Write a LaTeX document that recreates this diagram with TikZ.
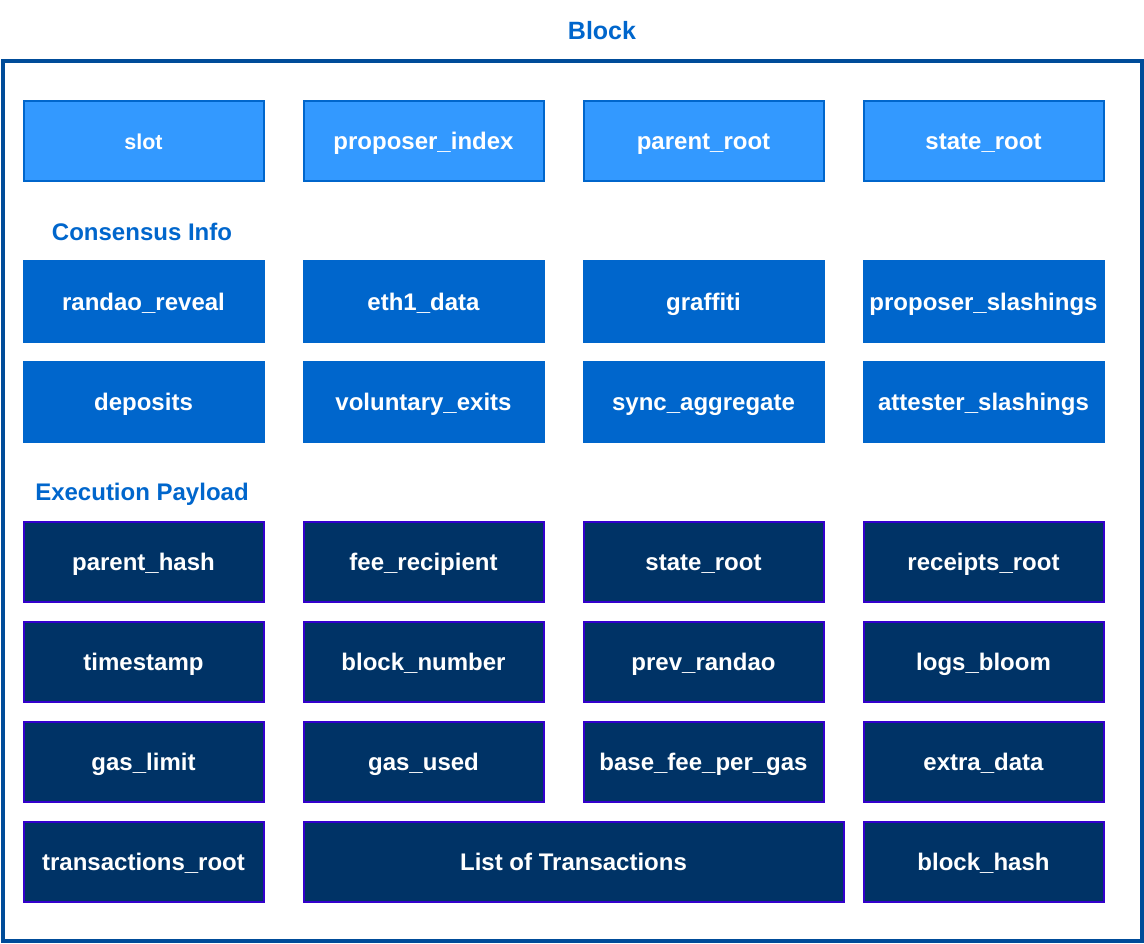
\documentclass[tikz,border=0pt]{standalone}
\usepackage{fontspec}
\setmainfont{Liberation Sans}
\definecolor{hdrfill}{HTML}{3399FF}
\definecolor{midblue}{HTML}{0066CC}
\definecolor{navy}{HTML}{003366}
\definecolor{violet}{HTML}{3300CC}
\definecolor{frame}{HTML}{004C99}
\tikzset{
  field/.style={anchor=north west, minimum width=240pt, minimum height=80pt,
    inner sep=0pt, line width=2pt, text=white, text height=17pt, text depth=0pt,
    font=\fontsize{24}{28}\selectfont\bfseries},
  headerfield/.style={field, fill=hdrfill, draw=midblue},
  consfield/.style={field, fill=midblue, draw=midblue},
  execfield/.style={field, fill=navy, draw=violet},
  caption/.style={text=midblue, font=\fontsize{24}{28}\selectfont\bfseries, inner sep=0pt,
    text height=17pt, text depth=0pt},
}
\begin{document}
\begin{tikzpicture}[x=1pt, y=-1pt]
\useasboundingbox (0,0) rectangle (1144,944);
% outer block frame
\draw[frame, line width=3.5pt] (3,61) rectangle (1142,941);
\node[caption, font=\fontsize{25}{29}\selectfont\bfseries] (title) at (602,31) {Block};
\node[caption] (cinfo) at (142,232) {Consensus Info};
\node[caption] (epay) at (142,492) {Execution Payload};

% header fields
\node[headerfield, font=\fontsize{21.5}{26}\selectfont\bfseries, text height=15.5pt] (slot) at (22.5,100.5) {slot};
\node[headerfield] (pidx) at (302.5,100.5) {proposer\_index};
\node[headerfield] (proot) at (582.5,100.5) {parent\_root};
\node[headerfield] (sroot) at (862.5,100.5) {state\_root};

% consensus info
\node[consfield] (randao) at (22.5,260.5) {randao\_reveal};
\node[consfield] (eth1) at (302.5,260.5) {eth1\_data};
\node[consfield] (graffiti) at (582.5,260.5) {graffiti};
\node[consfield] (pslash) at (862.5,260.5) {proposer\_slashings};
\node[consfield] (deposits) at (22.5,360.5) {deposits};
\node[consfield] (vexits) at (302.5,360.5) {voluntary\_exits};
\node[consfield] (sync) at (582.5,360.5) {sync\_aggregate};
\node[consfield] (aslash) at (862.5,360.5) {attester\_slashings};

% execution payload
\node[execfield] (phash) at (22.5,520.5) {parent\_hash};
\node[execfield] (feerec) at (302.5,520.5) {fee\_recipient};
\node[execfield] (estate) at (582.5,520.5) {state\_root};
\node[execfield] (rroot) at (862.5,520.5) {receipts\_root};
\node[execfield] (tstamp) at (22.5,620.5) {timestamp};
\node[execfield] (bnum) at (302.5,620.5) {block\_number};
\node[execfield] (prand) at (582.5,620.5) {prev\_randao};
\node[execfield] (bloom) at (862.5,620.5) {logs\_bloom};
\node[execfield] (glimit) at (22.5,720.5) {gas\_limit};
\node[execfield] (gused) at (302.5,720.5) {gas\_used};
\node[execfield] (basefee) at (582.5,720.5) {base\_fee\_per\_gas};
\node[execfield] (extra) at (862.5,720.5) {extra\_data};
\node[execfield] (txroot) at (22.5,820.5) {transactions\_root};
\node[execfield, minimum width=540pt] (txlist) at (302.5,820.5) {List of Transactions};
\node[execfield] (bhash) at (862.5,820.5) {block\_hash};
\end{tikzpicture}
\end{document}
